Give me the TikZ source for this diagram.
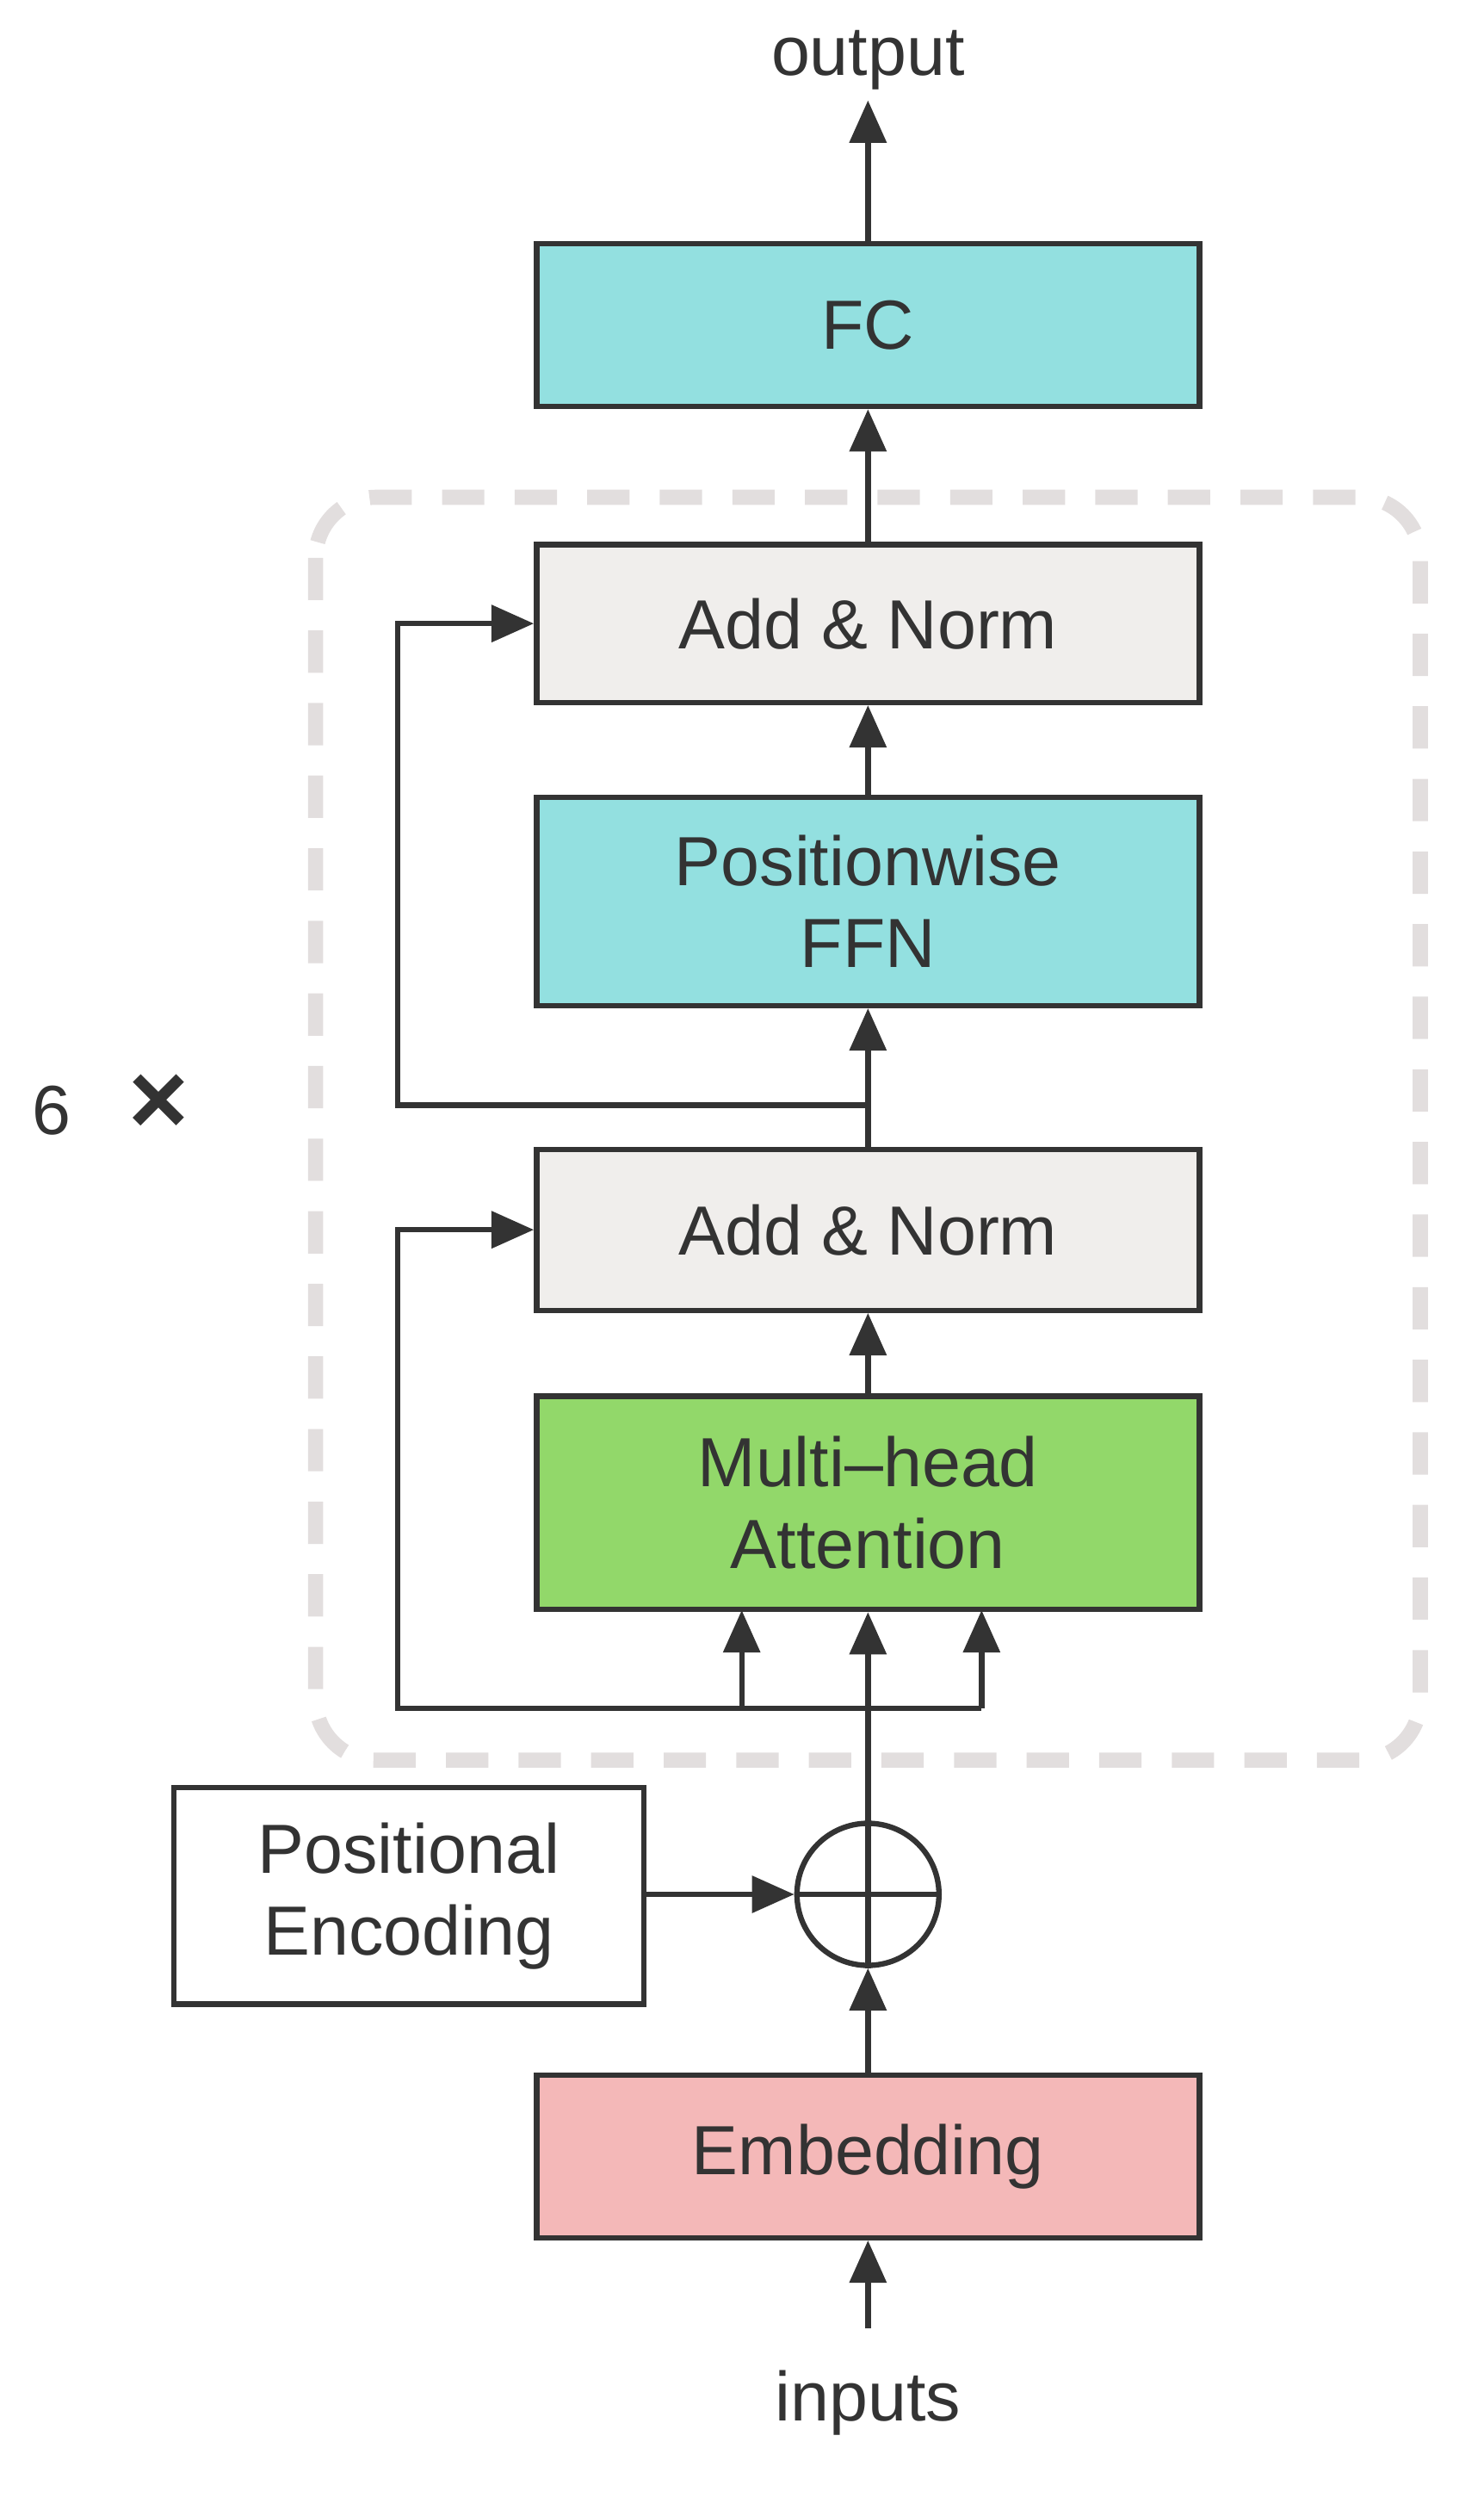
\documentclass[tikz,border=0pt]{standalone}
\usepackage{fontspec}
\setmainfont{Liberation Sans}
\usetikzlibrary{arrows.meta}
\definecolor{cyanf}{HTML}{93E0E0}
\definecolor{normf}{HTML}{F0EEEC}
\definecolor{greenf}{HTML}{92D86A}
\definecolor{pinkf}{HTML}{F4B8B8}
\definecolor{dashc}{HTML}{E2DEDE}
\definecolor{linec}{HTML}{333333}
\begin{document}
\begin{tikzpicture}[x=0.01834cm,y=-0.01834cm,
  box/.style={draw=linec,line width=1.8pt,minimum width=420*0.01834cm,align=center,font=\fontsize{23}{27}\selectfont,text=linec,inner sep=0pt},
  arr/.style={draw=linec,line width=1.8pt,-{Triangle[length=14pt,width=12pt]}},
  ln/.style={draw=linec,line width=1.8pt}]
\useasboundingbox (0,0) rectangle (940,1590);
\draw[dashc,line width=5pt,dash pattern=on 14pt off 10pt,rounded corners=20] (200,315) rectangle (900,1115);
\node[box,fill=cyanf,minimum height=103*0.01834cm] (fc) at (550,206) {FC};
\node[box,fill=normf,minimum height=100*0.01834cm] (an1) at (550,395) {Add \& Norm};
\node[box,fill=cyanf,minimum height=132*0.01834cm] (ffn) at (550,571) {Positionwise\\FFN};
\node[box,fill=normf,minimum height=102*0.01834cm] (an2) at (550,779) {Add \& Norm};
\node[box,fill=greenf,minimum height=135*0.01834cm] (mha) at (550,952) {Multi–head\\Attention};
\node[box,fill=white,minimum width=298*0.01834cm,minimum height=137*0.01834cm] (pe) at (259,1201) {Positional\\Encoding};
\node[draw=linec,line width=1.8pt,circle,minimum size=90*0.01834cm,inner sep=0pt] (plus) at (550,1200) {};
\draw[ln] (plus.north)--(plus.south) (plus.west)--(plus.east);
\node[box,fill=pinkf,minimum height=103*0.01834cm] (emb) at (550,1366) {Embedding};
\node[font=\fontsize{23}{27}\selectfont,text=linec] (out) at (550,38) {output};
\node[font=\fontsize{23}{27}\selectfont,text=linec] (in) at (550,1522) {inputs};
\node[font=\fontsize{23}{27}\selectfont,text=linec] (six) at (70,700) {6\ \ \ {\fontsize{34}{34}\selectfont\bfseries ×}};
\coordinate (inb) at (550,1475);
\coordinate (r1) at (550,700);
\coordinate (r2) at (550,1082);
\draw[arr] (inb)--(emb.south);
\draw[arr] (emb.north)--(plus.south);
\draw[arr] (pe.east|-plus)--(plus.west);
\draw[arr] (plus.north)--(mha.south);
\draw[arr] (mha.north)--(an2.south);
\draw[arr] (an2.north)--(ffn.south);
\draw[arr] (ffn.north)--(an1.south);
\draw[arr] (an1.north)--(fc.south);
\draw[arr] (fc.north)--(out.south);
\draw[arr] (r1)--(252,700)--(252,395)--(an1.west);
\draw[arr] (r2)--(252,1082)--(252,779)--(an2.west);
\draw[ln] (470,1082)--(622,1082);
\draw[arr] (470,1082)--(470,1020);
\draw[arr] (622,1082)--(622,1020);
\end{tikzpicture}
\end{document}
